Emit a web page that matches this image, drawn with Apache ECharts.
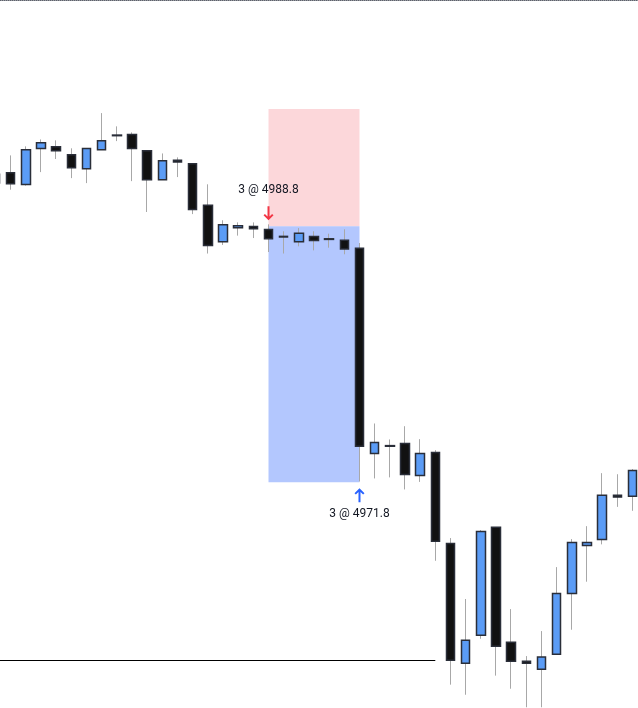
<!DOCTYPE html>
<html>
<head>
<meta charset="utf-8">
<script src="https://cdn.jsdelivr.net/npm/echarts@6/dist/echarts.min.js"></script>
<style>
  html, body { margin: 0; padding: 0; background: #fff; overflow: hidden; }
  /* wider than the window so the first candle is cut by the left edge */
  #chart { width: 652px; height: 708px; margin-left: -12px; }
</style>
</head>
<body>
<div id="chart"></div>
<script>
// candles, left to right (first one is cut off by the left edge)
const opens = [4992.25, 4992.36, 4991.57, 4993.96, 4994.09, 4993.56, 4992.63, 4993.89, 4994.86, 4994.90,
  4993.82, 4991.90, 4993.18, 4992.96, 4990.19, 4987.78, 4988.71, 4988.78, 4988.58, 4988.13,
  4987.78, 4988.13, 4987.97, 4987.87, 4987.34, 4973.71, 4974.23, 4974.37, 4972.25, 4973.77,
  4967.73, 4959.77, 4961.63, 4968.80, 4961.16, 4959.90, 4959.37, 4960.37, 4964.41, 4967.60,
  4968.00, 4970.94, 4970.87]
const closes = [4991.67, 4991.63, 4993.89, 4994.35, 4993.82, 4992.69, 4993.96, 4994.49, 4994.82, 4993.96,
  4991.90, 4993.16, 4993.07, 4989.91, 4987.52, 4988.91, 4988.84, 4988.64, 4987.98, 4988.09,
  4988.33, 4987.85, 4987.93, 4987.29, 4974.19, 4974.44, 4974.19, 4972.31, 4973.71, 4967.87,
  4959.97, 4961.30, 4968.53, 4960.90, 4959.90, 4959.77, 4960.19, 4964.41, 4967.80, 4967.80,
  4970.94, 4970.81, 4972.58]
const lows = [4991.45, 4991.23, 4991.50, 4992.40, 4993.27, 4992.00, 4991.67, 4993.89, 4994.46, 4991.80,
  4989.75, 4991.90, 4992.07, 4989.61, 4986.99, 4987.56, 4988.18, 4988.02, 4987.09, 4986.99,
  4987.47, 4987.20, 4987.38, 4986.94, 4971.85, 4972.05, 4972.12, 4971.32, 4971.82, 4966.58,
  4958.35, 4957.68, 4961.40, 4958.95, 4958.08, 4956.85, 4956.85, 4960.37, 4962.00, 4965.19,
  4967.67, 4970.16, 4969.90]
const highs = [4992.38, 4993.51, 4994.11, 4994.57, 4994.51, 4993.98, 4993.96, 4996.32, 4995.44, 4995.04,
  4993.85, 4993.64, 4993.38, 4992.96, 4991.59, 4989.20, 4989.06, 4989.06, 4988.93, 4988.47,
  4988.68, 4988.47, 4988.31, 4988.60, 4987.69, 4975.70, 4974.64, 4975.52, 4974.66, 4973.93,
  4968.09, 4964.04, 4968.62, 4968.82, 4963.37, 4960.25, 4961.91, 4966.16, 4968.02, 4968.88,
  4972.40, 4972.33, 4972.67]

// short position tool
const qty = 3
const entryPrice = 4988.8
const stopPrice = 4996.6
const targetPrice = 4971.8
const entryBar = 18
const exitBar = 24
// horizontal level
const levelPrice = 4960.0
const levelEnd = 29

const priceMin = 4956.8
const priceMax = 5003.8

const cats = opens.map((_, i) => String(i))
const wicks = opens.map((o, i) => [o, closes[i], lows[i], highs[i]])
const bodies = opens.map((o, i) => [o, closes[i], Math.min(o, closes[i]), Math.max(o, closes[i])])

const arrowDown = 'path://M4,0 L6,0 L6,10.2 L8.6,7.6 L10,9 L5,14 L0,9 L1.4,7.6 L4,10.2 Z'
const labelFont = { fontFamily: 'Roboto', fontSize: 12, color: '#131722' }

let chart = echarts.init(document.getElementById('chart'), null, { renderer: 'canvas' })
let option = {
  animation: false,
  grid: {
    left: 0,
    right: 0,
    top: 0.5,
    bottom: 0
  },
  xAxis: {
    type: 'category',
    position: 'top',
    data: cats,
    axisLine: {
      show: true,
      lineStyle: { color: '#5d606b', type: 'dotted', width: 1 }
    },
    axisTick: { show: false },
    axisLabel: { show: false },
    splitLine: { show: false }
  },
  yAxis: {
    type: 'value',
    show: false,
    min: priceMin,
    max: priceMax,
    splitLine: { show: false }
  },
  series: [
    {
      // wicks only
      name: 'wick',
      type: 'candlestick',
      barWidth: 1,
      data: wicks,
      itemStyle: {
        color: '#a8a8a8',
        color0: '#a8a8a8',
        borderColor: '#a8a8a8',
        borderColor0: '#a8a8a8',
        borderWidth: 1
      },
      markArea: {
        silent: true,
        itemStyle: { borderWidth: 0 },
        data: [
          [
            { coord: [String(entryBar), stopPrice], itemStyle: { color: '#fcd7da' } },
            { coord: [String(exitBar), entryPrice] }
          ],
          [
            { coord: [String(entryBar), entryPrice], itemStyle: { color: '#b3c7fe' } },
            { coord: [String(exitBar), targetPrice] }
          ]
        ]
      },
      markLine: {
        silent: true,
        symbol: ['none', 'none'],
        label: { show: false },
        lineStyle: { color: '#000', width: 1, type: 'solid' },
        data: [
          [{ coord: ['0', levelPrice] }, { coord: [String(levelEnd), levelPrice] }]
        ]
      }
    },
    {
      // bodies
      name: 'body',
      type: 'candlestick',
      barWidth: 9,
      data: bodies,
      itemStyle: {
        color: '#5b9cf6',
        color0: '#111111',
        borderColor: '#2a2e39',
        borderColor0: '#2a2e39',
        borderWidth: 1.5
      },
      markPoint: {
        silent: true,
        data: [
          {
            coord: [String(entryBar), entryPrice],
            symbol: arrowDown,
            symbolSize: [10, 14],
            symbolOffset: [0, -13],
            itemStyle: { color: '#f23645' },
            label: { show: false }
          },
          {
            coord: [String(entryBar), entryPrice],
            symbol: 'rect',
            symbolSize: 1,
            symbolOffset: [0, -36],
            itemStyle: { color: 'transparent' },
            label: Object.assign({ show: true, position: 'inside', formatter: qty + ' @ ' + entryPrice.toFixed(1) }, labelFont)
          },
          {
            coord: [String(exitBar), targetPrice],
            symbol: arrowDown,
            symbolRotate: 180,
            symbolSize: [10, 14],
            symbolOffset: [0, 13],
            itemStyle: { color: '#2962ff' },
            label: { show: false }
          },
          {
            coord: [String(exitBar), targetPrice],
            symbol: 'rect',
            symbolSize: 1,
            symbolOffset: [0, 32],
            itemStyle: { color: 'transparent' },
            label: Object.assign({ show: true, position: 'inside', formatter: qty + ' @ ' + targetPrice.toFixed(1) }, labelFont)
          }
        ]
      }
    }
  ]
}
chart.setOption(option)
</script>
</body>
</html>
